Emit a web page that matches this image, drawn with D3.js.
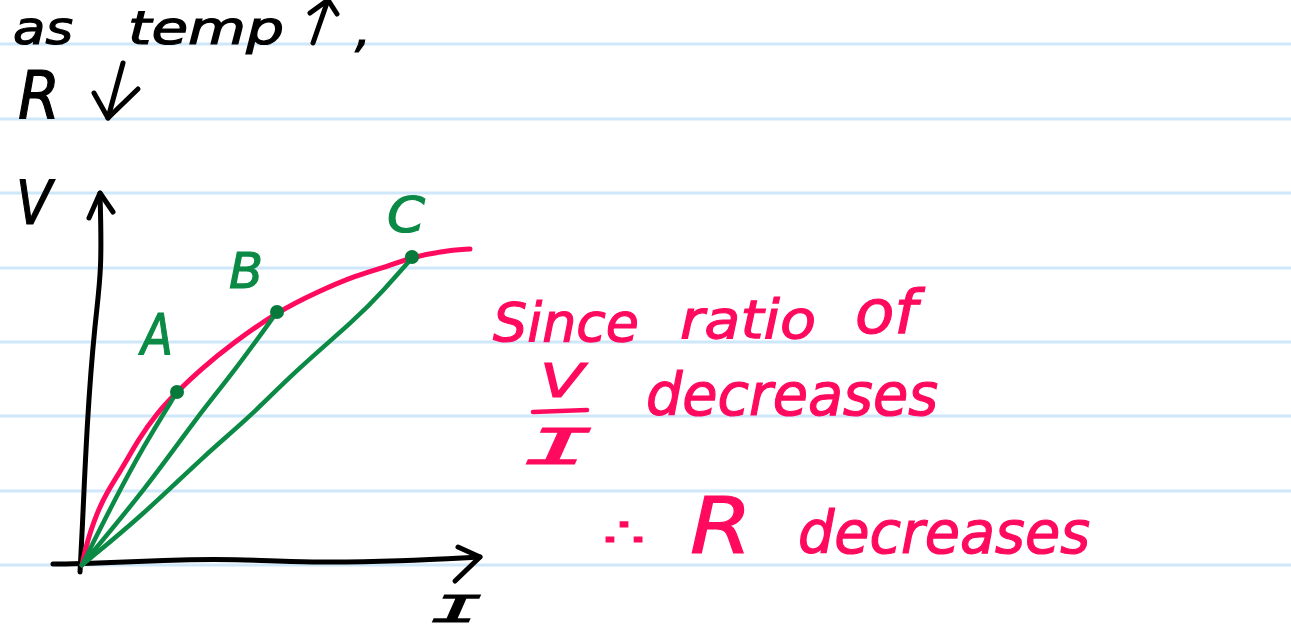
<!DOCTYPE html>
<html>
<head>
<meta charset="utf-8">
<script src="https://cdnjs.cloudflare.com/ajax/libs/d3/7.8.5/d3.min.js"></script>
<style>
  html, body { margin: 0; padding: 0; background: #fff; }
  svg { display: block; }
  text { font-family: "DejaVu Sans", sans-serif; font-style: italic; }
</style>
</head>
<body>
<svg width="1291" height="632"></svg>
<script>
// curves, [I, V]
const curve = [[0,0],[4,18],[8,32],[15,52],[25,73],[41,98],[56,125],[75,152],[95,173],[118,195],[151,222],[195,253],[235,273],[275,290],[301,297],[330,308],[361,314],[388,316]];
const chordA = [[0,0],[31,62],[61,118],[95,173]];
const chordB = [[0,0],[65,78],[115,148],[151,192],[195,253]];
const chordC = [[0,0],[61,50],[125,112],[168,148],[211,192],[275,247],[301,274],[330,307]];
const points = [[95,173],[195,253],[330,308]];

const axisV = [[-2,-7],[0,28],[5,145],[13,245],[20,295],[18,372]];
const axisVHead = [[7,347],[18,372],[31,353]];
const axisI = [[-29,1],[0,1],[85,5],[151,6],[235,2],[318,4],[398,8]];
const axisIHead = [[376,18],[398,8],[373,-16]];
const fractionBar = [[451,153],[505,155]];

// the two arrows in the heading note
const upShaft = [[231,522],[246,565]];
const upHead = [[228,552],[246,565],[255,551]];
const downShaft = [[41,502],[26,447]];
const downHead = [[12,472],[26,447],[56,476]];

const ruleValues = [0,74,149,223,297,372,446,521];

const red = "#ff0a5e", green = "#0b8a46", dotGreen = "#067a3a", ink = "#000";

var svg = d3.select("svg"),
    width = +svg.attr("width"),
    height = +svg.attr("height");

var x = d3.scaleLinear().domain([0, 400]).range([82, 482]);
var y = d3.scaleLinear().domain([0, 400]).range([565, 165]);

// paper lines
svg.append("g").selectAll("line")
  .data(ruleValues)
  .join("line")
  .attr("x1", 0).attr("x2", width)
  .attr("y1", d => y(d)).attr("y2", d => y(d))
  .attr("stroke", "#cfe8f9")
  .attr("stroke-width", 3);

var smooth = d3.line().x(d => x(d[0])).y(d => y(d[1])).curve(d3.curveBasis);
var straight = d3.line().x(d => x(d[0])).y(d => y(d[1]));

function stroke(d, color, w, gen) {
  svg.append("path")
    .attr("d", (gen || smooth)(d))
    .attr("fill", "none")
    .attr("stroke", color)
    .attr("stroke-width", w)
    .attr("stroke-linecap", "round")
    .attr("stroke-linejoin", "round");
}

stroke(axisV, ink, 5);
stroke(axisVHead, ink, 5, straight);
stroke(axisI, ink, 5);
stroke(axisIHead, ink, 5, straight);

stroke(upShaft, ink, 5, straight);
stroke(upHead, ink, 5, straight);
stroke(downShaft, ink, 5, straight);
stroke(downHead, ink, 5, straight);

stroke(curve, red, 5);
stroke(chordA, green, 4.5);
stroke(chordB, green, 4.5);
stroke(chordC, green, 4.5);
stroke(fractionBar, red, 4.5, straight);

svg.append("g").selectAll("circle")
  .data(points)
  .join("circle")
  .attr("cx", d => x(d[0]))
  .attr("cy", d => y(d[1]))
  .attr("r", 7)
  .attr("fill", dotGreen);

// handwriting, squeezed to the width it has in the sketch
function note(str, px, py, size, color, len, family) {
  var t = svg.append("text")
    .attr("x", px).attr("y", py)
    .attr("font-size", size)
    .attr("fill", color)
    .attr("stroke", color)
    .attr("stroke-width", 1.2)
    .text(str);
  if (len) t.attr("textLength", len).attr("lengthAdjust", "spacingAndGlyphs");
  if (family) t.style("font-family", family);
}

const mono = '"DejaVu Sans Mono", monospace';

note("as", 13, 44, 47, ink, 60);
note("temp", 128, 44, 47, ink, 156);
note(",", 355, 46, 50, ink);
note("R", 18, 118, 66, ink, 42);

note("V", 16, 224, 60, ink, 36);
note("I", 431, 622, 38, ink, 51, mono);
note("A", 141, 355, 57, green, 32);
note("B", 229, 288, 50, green, 34);
note("C", 387, 232, 50, green, 38);

note("Since", 493, 341, 54, red, 146);
note("ratio", 680, 338, 54, red, 136);
note("of", 855, 333, 60, red, 62);
note("V", 540, 397, 46, red, 44);
note("I", 524, 464, 50, red, 69, mono);
note("decreases", 646, 415, 58, red, 292);
note("∴", 603, 546, 40, red, 42);
note("R", 690, 553, 78, red, 62);
note("decreases", 798, 553, 58, red, 292);
</script>
</body>
</html>
